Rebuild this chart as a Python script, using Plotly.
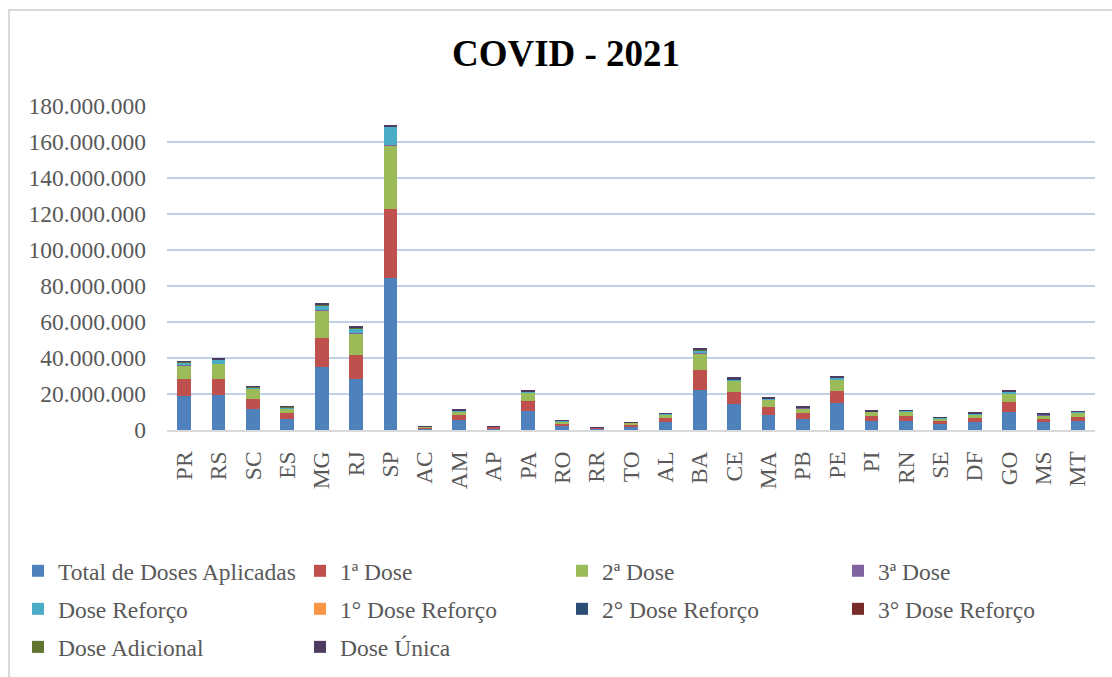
import plotly.graph_objects as go

# States (UF) in display order
estados = ["PR", "RS", "SC", "ES", "MG", "RJ", "SP", "AC", "AM", "AP", "PA", "RO", "RR", "TO",
           "AL", "BA", "CE", "MA", "PB", "PE", "PI", "RN", "SE", "DF", "GO", "MS", "MT"]

total_doses = [19_100_000, 19_500_000, 11_700_000, 6_300_000, 34_900_000, 28_400_000, 84_300_000,
               1_000_000, 5_300_000, 1_100_000, 10_700_000, 2_500_000, 800_000, 2_100_000,
               4_500_000, 22_200_000, 14_400_000, 8_500_000, 6_200_000, 14_800_000, 5_000_000,
               5_200_000, 3_400_000, 4_600_000, 10_200_000, 4_400_000, 5_000_000]
dose_1 = [9_100_000, 8_900_000, 5_700_000, 3_000_000, 16_400_000, 13_300_000, 38_400_000,
          500_000, 2_800_000, 600_000, 5_600_000, 1_300_000, 400_000, 1_000_000,
          1_900_000, 11_200_000, 6_900_000, 4_500_000, 3_000_000, 6_900_000, 2_600_000,
          2_600_000, 1_400_000, 2_200_000, 5_400_000, 1_900_000, 2_500_000]
dose_2 = [7_900_000, 8_300_000, 5_600_000, 2_800_000, 15_000_000, 12_100_000, 35_600_000,
          400_000, 2_300_000, 400_000, 4_400_000, 1_100_000, 300_000, 900_000,
          2_200_000, 9_200_000, 6_100_000, 3_800_000, 3_000_000, 6_500_000, 2_400_000,
          2_400_000, 1_700_000, 1_900_000, 4_800_000, 2_000_000, 2_200_000]
dose_3 = [100_000, 80_000, 50_000, 80_000, 130_000, 130_000, 150_000,
          5_000, 50_000, 5_000, 60_000, 15_000, 5_000, 15_000,
          50_000, 100_000, 90_000, 60_000, 40_000, 90_000, 40_000,
          60_000, 50_000, 60_000, 40_000, 60_000, 40_000]
dose_reforco = [1_300_000, 2_200_000, 700_000, 500_000, 2_600_000, 2_400_000, 9_900_000,
                50_000, 500_000, 50_000, 500_000, 150_000, 50_000, 150_000,
                400_000, 1_500_000, 800_000, 500_000, 300_000, 600_000, 300_000,
                400_000, 300_000, 400_000, 1_000_000, 500_000, 400_000]
reforco_1 = [10_000, 8_000, 5_000, 5_000, 15_000, 15_000, 20_000,
             1_000, 5_000, 1_000, 5_000, 2_000, 1_000, 2_000,
             5_000, 10_000, 8_000, 5_000, 4_000, 8_000, 4_000,
             5_000, 4_000, 5_000, 5_000, 5_000, 4_000]
reforco_2 = [90_000, 60_000, 40_000, 60_000, 110_000, 110_000, 130_000,
             4_000, 40_000, 4_000, 50_000, 12_000, 4_000, 12_000,
             40_000, 90_000, 70_000, 50_000, 30_000, 70_000, 30_000,
             50_000, 40_000, 50_000, 30_000, 50_000, 30_000]
reforco_3 = [5_000, 4_000, 3_000, 3_000, 10_000, 10_000, 20_000,
             1_000, 3_000, 1_000, 3_000, 1_000, 1_000, 1_000,
             3_000, 5_000, 4_000, 3_000, 2_000, 4_000, 2_000,
             3_000, 2_000, 3_000, 3_000, 3_000, 2_000]
dose_adicional = [250_000, 150_000, 100_000, 150_000, 300_000, 300_000, 350_000,
                  10_000, 100_000, 10_000, 120_000, 40_000, 10_000, 40_000,
                  100_000, 250_000, 180_000, 120_000, 80_000, 180_000, 80_000,
                  120_000, 100_000, 120_000, 80_000, 120_000, 80_000]
dose_unica = [450_000, 300_000, 200_000, 300_000, 550_000, 550_000, 650_000,
              30_000, 200_000, 30_000, 250_000, 80_000, 30_000, 80_000,
              200_000, 450_000, 350_000, 250_000, 150_000, 350_000, 150_000,
              250_000, 200_000, 250_000, 150_000, 250_000, 150_000]

series = [
    ("Total de Doses Aplicadas", total_doses, "#4F81BD", "legend"),
    ("1ª Dose", dose_1, "#C0504D", "legend2"),
    ("2ª Dose", dose_2, "#9BBB59", "legend3"),
    ("3ª Dose", dose_3, "#8064A2", "legend4"),
    ("Dose Reforço", dose_reforco, "#4BACC6", "legend"),
    ("1° Dose Reforço", reforco_1, "#F79646", "legend2"),
    ("2° Dose Reforço", reforco_2, "#2C4D75", "legend3"),
    ("3° Dose Reforço", reforco_3, "#772C2A", "legend4"),
    ("Dose Adicional", dose_adicional, "#5F7530", "legend"),
    ("Dose Única", dose_unica, "#4D3B62", "legend2"),
]

SERIF = "Liberation Serif, Times New Roman, serif"
GREY = "#595959"

fig = go.Figure()
for nome, valores, cor, leg in series:
    fig.add_trace(go.Bar(
        x=estados, y=valores, name=nome, legend=leg, legendgroup=nome,
        marker=dict(color=cor, line=dict(width=0)),
    ))

# plot area: x 167..1095 px, y 106..430 px
L, R, T, B = 167, 17, 106, 247
W, H = 1112, 677
pw, ph = W - L - R, H - T - B


def px_x(px):
    return (px - L) / pw


def px_y(py):
    return (H - B - py) / ph


legend_common = dict(
    orientation="v", xanchor="left", yanchor="top",
    font=dict(family=SERIF, size=23.5, color=GREY),
    bgcolor="rgba(0,0,0,0)", tracegroupgap=4.5, itemwidth=30,
)
y_leg = px_y(549)

fig.update_layout(
    width=W, height=H, autosize=False,
    margin=dict(l=L, r=R, t=T, b=B, autoexpand=False),
    paper_bgcolor="white", plot_bgcolor="white",
    barmode="stack", bargap=0.6,
    separators=",.",
    title=dict(text="<b>COVID - 2021</b>", x=566 / W, xref="container", xanchor="center",
               y=1 - 53 / H, yref="container", yanchor="middle",
               font=dict(family=SERIF, size=37, color="black")),
    xaxis=dict(type="category", tickangle=-90, showgrid=False,
               showline=True, linecolor="#D9D9D9", linewidth=2,
               ticks="", ticklabelstandoff=10,
               tickfont=dict(family=SERIF, size=23.5, color=GREY)),
    yaxis=dict(range=[0, 180_000_000], dtick=20_000_000, tickformat=",d",
               showgrid=True, gridcolor="#BFD0E7", gridwidth=2,
               zeroline=False, showline=False, ticks="", ticklabelstandoff=20,
               tickfont=dict(family=SERIF, size=23.5, color=GREY)),
    legend=dict(x=px_x(18), y=y_leg, **legend_common),
    legend2=dict(x=px_x(300), y=y_leg, **legend_common),
    legend3=dict(x=px_x(562), y=y_leg, **legend_common),
    legend4=dict(x=px_x(838), y=y_leg, **legend_common),
    shapes=[dict(type="rect", xref="paper", yref="paper",
                 x0=px_x(9), y0=px_y(10), x1=px_x(1125), y1=px_y(690),
                 line=dict(color="#D9D9D9", width=2), fillcolor="rgba(0,0,0,0)",
                 layer="below")],
)

fig.write_html("out.html")
